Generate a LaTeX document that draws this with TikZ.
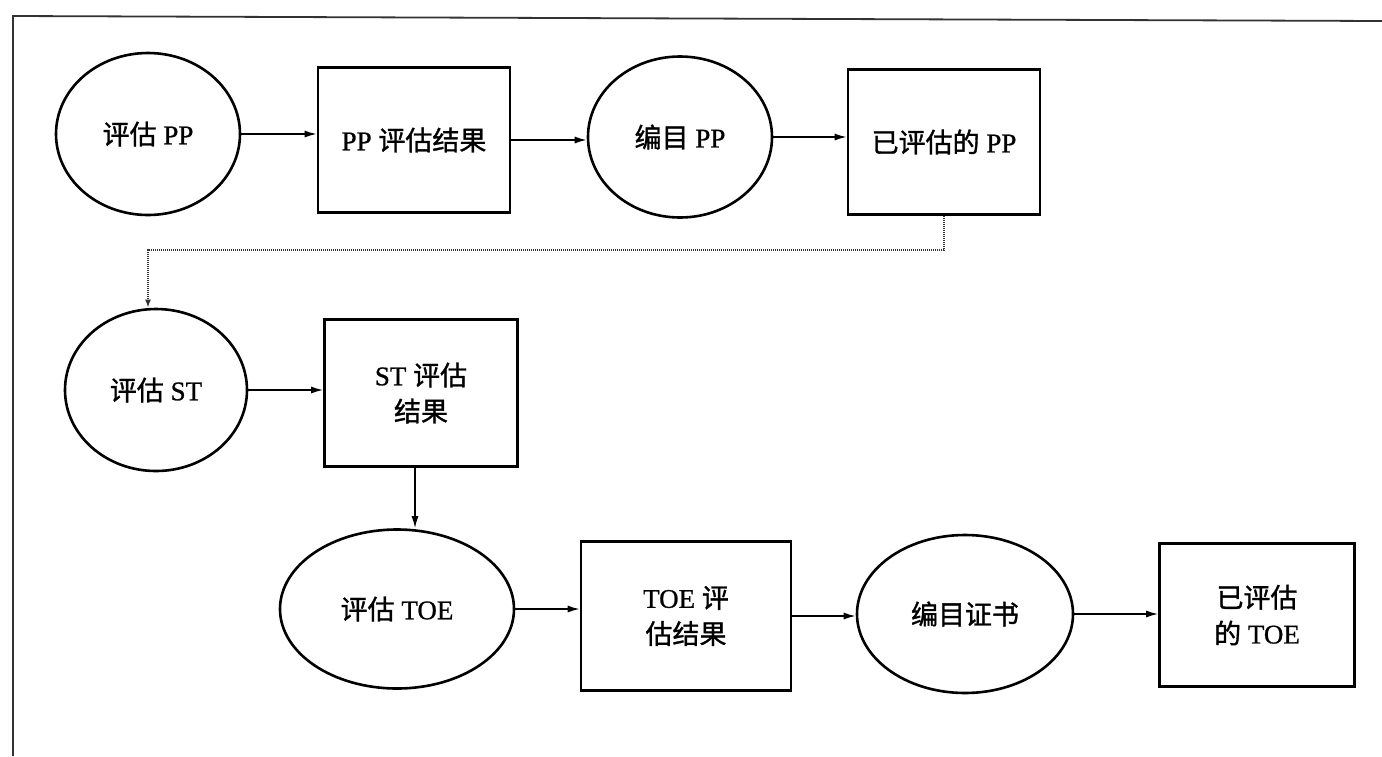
\documentclass[tikz,border=0pt]{standalone}
\usepackage{fontspec}
\setmainfont{Liberation Serif}[FakeBold=0.8]
\newfontfamily\cjk{Noto Sans CJK SC}[FakeBold=1.2]
\usetikzlibrary{shapes.geometric,arrows.meta}
\begin{document}
\begin{tikzpicture}[x=1pt,y=-1pt,
  lbl/.style={font=\fontsize{27}{36}\selectfont, align=center, inner sep=0pt},
  proc/.style={draw, ellipse, line width=2.6pt, lbl},
  dbox/.style={draw, rectangle, line width=2.6pt, lbl},
  arr/.style={line width=1.6pt, -{Latex[length=12pt,width=7pt]}},
  darr/.style={line width=2pt, dash pattern=on 1.2pt off 0.8pt, draw=black!80, -{Latex[length=8pt,width=6pt]}},
  frame/.style={line width=1.8pt, draw=black!80}]
\useasboundingbox (0,0) rectangle (1382,756);
\fill[white] (0,0) rectangle (1382,756);
\draw[frame] (13,756) -- (13,16) -- (1382,21);

\node[proc, minimum width=184pt, minimum height=162pt] (E1) at (148,134) {{\cjk 评估} PP};
\node[dbox, minimum width=192pt, minimum height=145pt] (B1) at (414,140) {PP {\cjk 评估结果}};
\node[proc, minimum width=184pt, minimum height=161pt] (E2) at (680,137) {{\cjk 编目} PP};
\node[dbox, minimum width=192pt, minimum height=145pt] (B2) at (944,142) {{\cjk 已评估的} PP};

\node[proc, minimum width=182pt, minimum height=162pt] (E3) at (156,390) {{\cjk 评估} ST};
\node[dbox, minimum width=193pt, minimum height=147pt] (B3) at (421,393) {ST {\cjk 评估}\\{\cjk 结果}};

\node[proc, minimum width=234pt, minimum height=159pt] (E4) at (397,609) {{\cjk 评估} TOE};
\node[dbox, minimum width=210pt, minimum height=149pt] (B4) at (686,616) {TOE {\cjk 评}\\{\cjk 估结果}};
\node[proc, minimum width=216pt, minimum height=158pt] (E5) at (965,614) {{\cjk 编目证书}};
\node[dbox, minimum width=195pt, minimum height=143pt] (B5) at (1257,615) {{\cjk 已评估}\\{\cjk 的} TOE};

\draw[arr] (E1.east) -- (E1.east -| B1.west);
\draw[arr] (B1.east) -- (B1.east -| E2.west);
\draw[arr] (E2.east) -- (E2.east -| B2.west);
\draw[arr] (E3.east) -- (E3.east -| B3.west);
\coordinate (b3s) at ([xshift=-6pt]B3.south);
\draw[arr] (b3s) -- (E4.north -| b3s);
\draw[arr] (E4.east) -- (E4.east -| B4.west);
\draw[arr] (B4.east) -- (B4.east -| E5.west);
\draw[arr] (E5.east) -- (E5.east -| B5.west);

\coordinate (turnR) at (945,250);
\coordinate (turnL) at (148,250);
\draw[darr] (B2.south) -- (B2.south |- turnR) -- (turnL) -- (E3.north -| turnL);
\end{tikzpicture}
\end{document}
